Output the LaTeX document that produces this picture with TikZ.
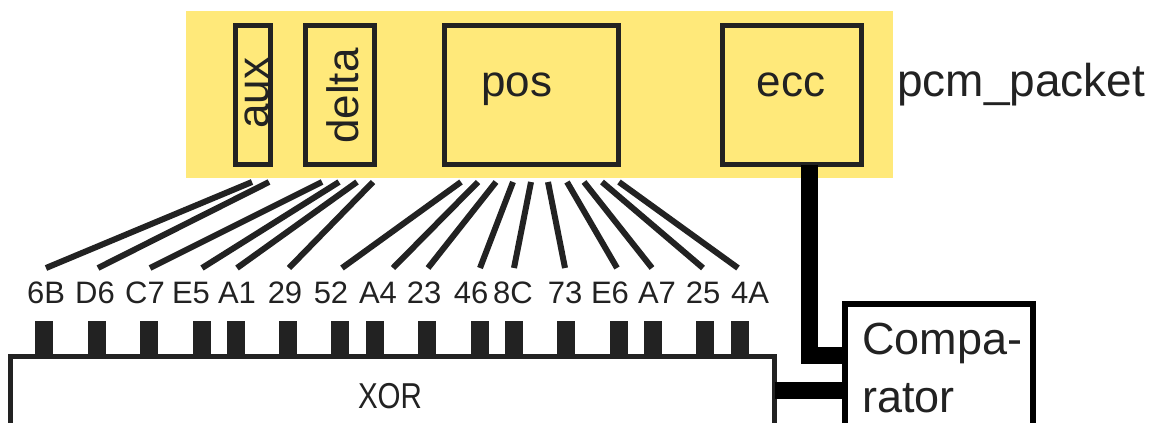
\documentclass[tikz,border=0pt]{standalone}
\usepackage{fontspec}
\setmainfont{Liberation Sans}
\newfontfamily\condfont[FakeStretch=0.82]{Liberation Sans}
\definecolor{pcmyellow}{RGB}{255,233,122}
\definecolor{ink}{RGB}{34,34,34}
\begin{document}
\begin{tikzpicture}[x=1pt,y=-1pt,
  field/.style={draw=ink,line width=5pt,inner sep=0pt,outer sep=0pt},
  wire/.style={draw=ink,line width=6pt,line cap=butt},
  pin/.style={fill=ink,minimum width=18pt,minimum height=35pt,inner sep=0pt,outer sep=0pt},
  bus/.style={draw=black,line width=17pt,line cap=butt},
  big/.style={font=\fontsize{44}{50}\selectfont,text=ink,inner sep=0pt},
  small/.style={font=\fontsize{31}{34}\selectfont,text=ink,inner sep=0pt,anchor=base},
]
\useasboundingbox (0,0) rectangle (1154,423);
\clip (0,0) rectangle (1154,423);
% packet background
\node[fill=pcmyellow,minimum width=707pt,minimum height=167pt,inner sep=0pt] (packet) at (539.5,94.5) {};
% fields
\node[field,minimum width=35pt,minimum height=139pt] (auxbox) at (253,95) {};
\node[field,minimum width=69pt,minimum height=139pt] (deltabox) at (340,95) {};
\node[field,minimum width=174pt,minimum height=139pt] (posbox) at (531.5,95) {};
\node[field,minimum width=139pt,minimum height=139pt] (eccbox) at (792,95) {};
\node[big,rotate=90,anchor=base] (auxtext) at (268,93) {aux};
\node[big,rotate=90,anchor=base] (deltatext) at (358,96) {delta};
\node[big,anchor=base] (postext) at (517,96) {pos};
\node[big,anchor=base] (ecctext) at (791,96) {ecc};
\node[big,font=\fontsize{46}{50}\selectfont,anchor=base west] (pcmlabel) at (897,96) {pcm\_packet};
% XOR and comparator
\node[draw=ink,line width=5pt,fill=white,minimum width=764.5pt,minimum height=84pt,inner sep=0pt,outer sep=0pt] (xor) at (392.25,398) {};
\node[text=ink,inner sep=0pt,anchor=base,font=\condfont\fontsize{36}{40}\selectfont] (xortext) at (390,408) {XOR};
\node[draw=black,line width=6pt,fill=white,minimum width=188.5pt,minimum height=136pt,inner sep=0pt,outer sep=0pt] (cmp) at (938.75,372) {};
\node[big,font=\fontsize{45}{50}\selectfont,anchor=base west] (cmptop) at (862,354) {Compa-};
\node[big,font=\fontsize{45}{50}\selectfont,anchor=base west] (cmpbot) at (862,412) {rator};
% fan, labels, pins
\foreach \i/\t/\b/\p/\l/\s in {1/252/46/44/46/6B, 2/269/98/96.5/95/D6, 3/322/150/148.5/145/C7, 4/339/202/201.5/191/E5,
  5/357/237/236/237/A1, 6/373/289/287.5/285/29, 7/461/342/340/331/52, 8/478/393/375/378/A4,
  9/496/428/427/424/23, 10/513/480/479.5/471/46, 11/531/514/514/513/8C, 12/548/565/566/565/73,
  13/567/617/618.5/610/E6, 14/584/652/653/657/A7, 15/602/703/705/703/25, 16/619/738/740/750/4A}{
  \coordinate (top\i) at (\t,182);
  \coordinate (bot\i) at (\b,268);
  \draw[wire] (top\i) -- (bot\i);
  \node[small] (lab\i) at (\l,303) {\s};
  \node[pin,anchor=north] (pin\i) at (\p,321) {};
}
% redraw xor outline on top of pins
\draw[draw=ink,line width=5pt] (xor.north west) rectangle (xor.south east);
% buses
\draw[bus] ([xshift=17pt]eccbox.south) |- ([yshift=17pt]cmp.west);
\draw[bus] ([yshift=8pt]xor.east) -- ([yshift=8pt]xor.east -| cmp.west);
\end{tikzpicture}
\end{document}
